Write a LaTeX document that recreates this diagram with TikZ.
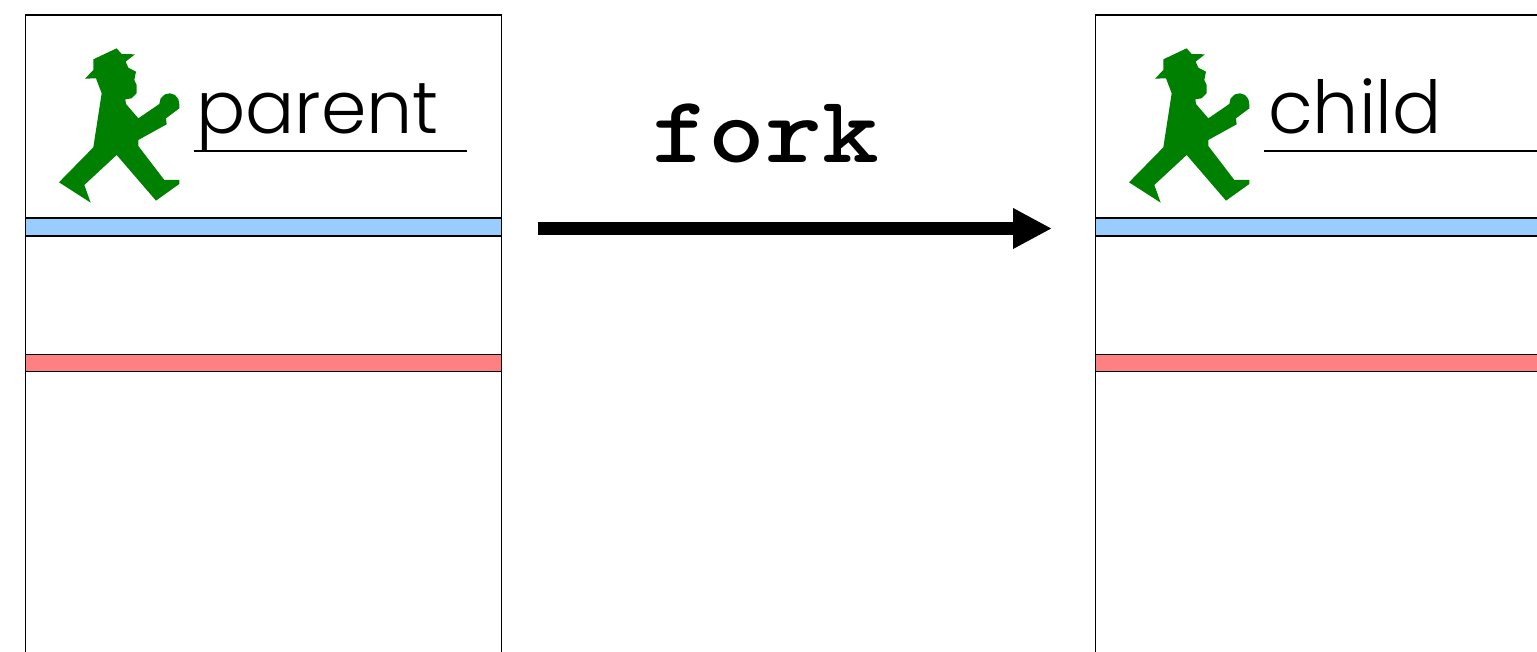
\documentclass[tikz,border=0pt]{standalone}
\usepackage{fontspec}
\usetikzlibrary{arrows.meta}
\newfontfamily\labelfont{Poppins Light}

\begin{document}
\begin{tikzpicture}
[
x = 1pt,
y = -1pt,
>={Triangle[length=39pt,width=38pt]},
panel/.style = {draw, line width=1.3pt, fill = white, minimum width=476pt, minimum height=700pt, anchor=north west, inner sep=0pt},
band/.style = {draw, line width=1.3pt, minimum width=476pt, anchor=north west, inner sep=0pt},
title/.style = {anchor=base west, inner sep=0pt, font=\labelfont\fontsize{73}{73}\selectfont},
walker/.style = {fill = walkergreen, x=0.3333pt, y=-0.3333pt},
]
\definecolor{walkergreen}{HTML}{008000}
\definecolor{bandblue}{HTML}{99CCFF}
\definecolor{bandred}{HTML}{FF8080}

\useasboundingbox (0,0) rectangle (1537,652);
\clip (0,0) rectangle (1537,652);

\def\man{(230,55) -- (245,72) -- (285,73) -- (257,95) -- (265,113) -- (288,125) -- (283,150) -- (290,165) -- (290,190) -- (275,205) -- (256,208) -- (258,222) -- (295,265) -- (358,222) -- (362,205) -- (375,193) -- (390,190) -- (405,195) -- (415,207) -- (418,222) -- (418,235) -- (378,265) -- (380,283) -- (295,330) -- (295,348) -- (373,450) -- (418,450) -- (418,462) -- (348,512) -- (230,375) -- (133,465) -- (152,518) -- (57,457) -- (160,352) -- (185,190) -- (168,145) -- (135,146) -- (160,120) -- (160,88) -- cycle}

% parent
\node (parentbox) at (24.5,14.5) [panel] {};
\node (parentblue) at (24.5,217.5) [band, fill = bandblue, minimum height=18pt] {};
\node (parentred) at (24.5,353.5) [band, fill = bandred, minimum height=17pt] {};
\fill[walker, xshift=40pt, yshift=-30pt] \man;
\node (parentlabel) at (196,133.5) [title] {parent};
\coordinate (parentline1) at (194,151);
\coordinate (parentline2) at (467,151);
\draw[line width=1.3pt] (parentline1) -- (parentline2);

% child
\node (childbox) at (1094.5,14.5) [panel] {};
\node (childblue) at (1094.5,217.5) [band, fill = bandblue, minimum height=18pt] {};
\node (childred) at (1094.5,353.5) [band, fill = bandred, minimum height=17pt] {};
\fill[walker, xshift=1110pt, yshift=-30pt] \man;
\node (childlabel) at (1268,133.5) [title] {child};
\coordinate (childline1) at (1264,151);
\coordinate (childline2) at (1537,151);
\draw[line width=1.3pt] (childline1) -- (childline2);

% fork
\node (forklabel) at (652,163) [anchor=base west, inner sep=0pt, transform shape, yscale=0.88, font=\ttfamily\bfseries\fontsize{108}{108}\selectfont] {fork};
\coordinate (forkstart) at (538,228.5);
\coordinate (forkend) at (1052,228.5);
\draw[->, line width=13pt] (forkstart) -- (forkend);
\end{tikzpicture}
\end{document}
